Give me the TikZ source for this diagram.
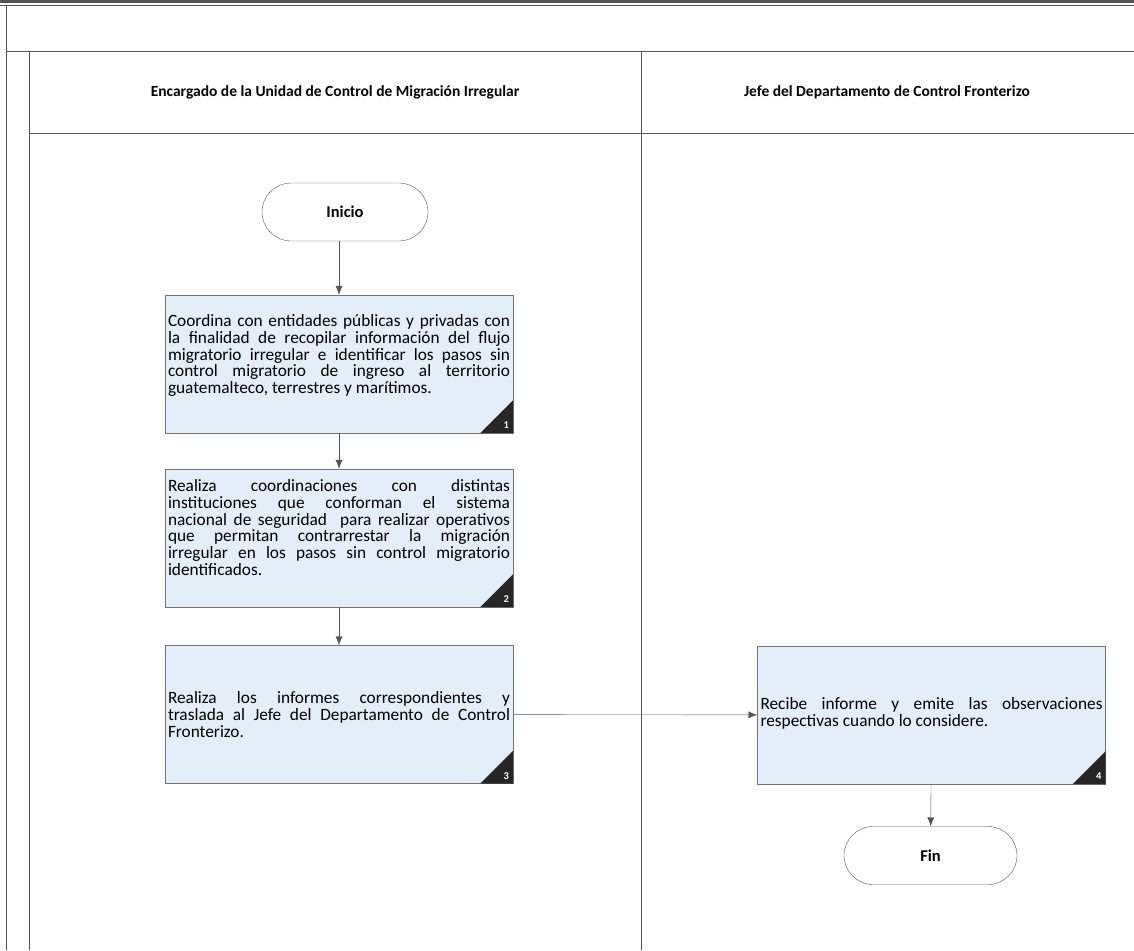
\documentclass[tikz,border=0pt]{standalone}
\usepackage{fontspec}
\setmainfont{Carlito}
\usetikzlibrary{arrows.meta,positioning}

\definecolor{boxblue}{RGB}{228,238,249}
\definecolor{lineg}{RGB}{85,85,85}

\tikzset{
  actbox/.style={draw=gray!90!black, fill=boxblue, minimum width=348pt, minimum height=138pt,
    text width=342pt, align=justify, inner sep=3pt, font=\fontsize{17.3}{16.7}\selectfont},
  term/.style={draw=lineg, fill=white, rounded corners=29pt, minimum width=166pt,
    minimum height=58pt, font=\fontsize{16.5}{18}\selectfont\bfseries},
  flow/.style={draw=lineg, -{Latex[length=9pt,width=7pt]}},
  lane/.style={draw=lineg, line width=1pt},
  lanehead/.style={font=\fontsize{15.5}{18}\selectfont\bfseries},
  tag/.style={text=white, inner sep=0pt, font=\fontsize{10.5}{10.5}\selectfont\bfseries}
}

\begin{document}
\begin{tikzpicture}[x=1pt,y=-1pt]
\useasboundingbox (0,0) rectangle (1134,950);

% frame and swimlanes
\draw[lineg, line width=2.5pt] (0,1.5) -- (1134,1.5);
\draw[lineg, line width=1.2pt] (0,5.5) -- (1134,5.5);
\draw[lane] (6,5) -- (6,950);
\draw[lane] (6,52) -- (1134,52);
\draw[lane] (29,52) -- (29,950);
\draw[lane] (29,133) -- (1134,133);
\draw[lane] (641,52) -- (641,950);

% lane titles
\node[lanehead] (encargado) at (335,92) {Encargado de la Unidad de Control de Migración Irregular};
\node[lanehead] (jefe) at (887,92) {Jefe del Departamento de Control Fronterizo};

% start and end
\node[term] (inicio) at (345,212) {Inicio};
\node[term, minimum width=173pt] (fin) at (930.5,855.5) {Fin};

% activities
\node[actbox] (b1) at (339,364) {Coordina con entidades públicas y privadas con\linebreak
  la finalidad de recopilar información del flujo\linebreak
  migratorio irregular e identificar los pasos sin\linebreak
  control migratorio de ingreso al territorio\linebreak
  guatemalteco, terrestres y marítimos.\par\kern17pt};
\node[actbox] (b2) at (339,538) {Realiza coordinaciones con distintas\linebreak
  instituciones que conforman el sistema\linebreak
  nacional de seguridad \ para realizar operativos\linebreak
  que permitan contrarrestar la migración\linebreak
  irregular en los pasos sin control migratorio\linebreak
  identificados.\par\kern21pt};
\node[actbox] (b3) at (339,714.5) {Realiza los informes correspondientes y\linebreak
  traslada al Jefe del Departamento de Control\linebreak
  Fronterizo.};
\node[actbox] (b4) at (931.5,715) {Recibe informe y emite las observaciones\linebreak
  respectivas cuando lo considere.\par\kern3pt};

% step numbers
\foreach \b/\n in {b1/1,b2/2,b3/3,b4/4}{
  \fill[black!85] (\b.south east) -- ++(0,-33) -- ++(-33,33) -- cycle;
  \node[tag] at ([xshift=-7pt,yshift=8pt]\b.south east) {\n};
}

% connectors
\draw[flow] (b1.north |- inicio.south) -- (b1.north);
\draw[flow] (b1) -- (b2);
\draw[flow] (b2) -- (b3);
\draw[flow] (b3) -- (b4);
\draw[flow] (b4) -- (fin);

\end{tikzpicture}
\end{document}
